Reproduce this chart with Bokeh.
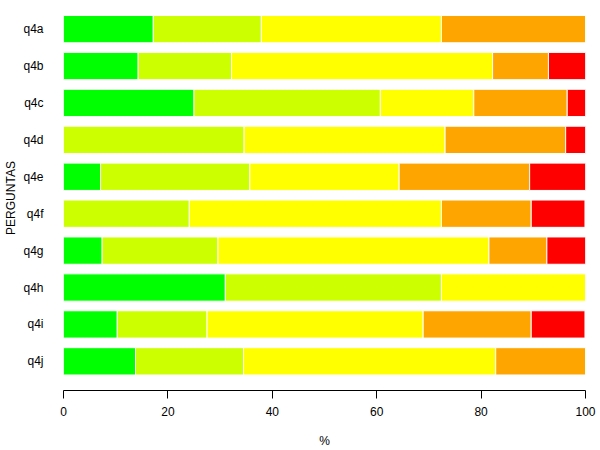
from bokeh.plotting import figure
from bokeh.models import ColumnDataSource, FixedTicker, Range1d
from bokeh.embed import file_html
from bokeh.resources import INLINE

categories = ["q4a", "q4b", "q4c", "q4d", "q4e", "q4f", "q4g", "q4h", "q4i", "q4j"]
s1 = [17.2, 14.3, 25.0, 0.0, 7.1, 0.0, 7.4, 31.0, 10.3, 13.8]
s2 = [20.7, 17.9, 35.7, 34.6, 28.6, 24.1, 22.2, 41.4, 17.2, 20.7]
s3 = [34.5, 50.0, 17.9, 38.5, 28.6, 48.3, 51.9, 27.6, 41.4, 48.3]
s4 = [27.6, 10.7, 17.9, 23.1, 25.0, 17.2, 11.1, 0.0, 20.7, 17.2]
s5 = [0.0, 7.1, 3.6, 3.8, 10.7, 10.3, 7.4, 0.0, 10.3, 0.0]
series = ["s1", "s2", "s3", "s4", "s5"]
colors = ["#00FF00", "#CCFF00", "#FFFF00", "#FFA500", "#FF0000"]
x_ticks = [0, 20, 40, 60, 80, 100]

n = len(categories)
ypos = [n - 1 - i for i in range(n)]
source = ColumnDataSource(dict(y=ypos, cat=categories, s1=s1, s2=s2, s3=s3, s4=s4, s5=s5))

p = figure(width=600, height=450, output_backend="svg", toolbar_location=None,
           x_range=Range1d(0, 100), y_range=Range1d(-0.79, 9.64),
           min_border_left=63, min_border_right=15, min_border_top=5, min_border_bottom=10)

p.hbar_stack(series, y="y", height=0.74, color=colors, source=source,
             line_color="white", line_width=1)

p.outline_line_color = None
p.grid.visible = False
p.background_fill_color = "white"
p.border_fill_color = "white"

font = "Liberation Sans"
xa = p.xaxis[0]
xa.ticker = FixedTicker(ticks=x_ticks)
xa.minor_tick_line_color = None
xa.major_tick_out = 8
xa.major_tick_in = 0
xa.axis_line_color = "black"
xa.major_tick_line_color = "black"
xa.major_label_text_font = font
xa.major_label_text_font_size = "12px"
xa.major_label_text_color = "black"
xa.major_label_standoff = 8
xa.axis_label = "%"
xa.axis_label_text_font = font
xa.axis_label_text_font_style = "normal"
xa.axis_label_text_font_size = "12px"
xa.axis_label_text_color = "black"
xa.axis_label_standoff = 15

ya = p.yaxis[0]
ya.ticker = FixedTicker(ticks=ypos)
ya.major_label_overrides = {y: c for y, c in zip(ypos, categories)}
ya.axis_line_color = None
ya.major_tick_line_color = None
ya.minor_tick_line_color = None
ya.major_tick_out = 0
ya.major_tick_in = 0
ya.major_label_standoff = 20
ya.major_label_text_font = font
ya.major_label_text_font_size = "12px"
ya.major_label_text_color = "black"
ya.axis_label = "PERGUNTAS"
ya.axis_label_text_font = font
ya.axis_label_text_font_style = "normal"
ya.axis_label_text_font_size = "12px"
ya.axis_label_text_color = "black"
ya.axis_label_standoff = 2

open("out.html", "w").write(file_html(p, INLINE))
